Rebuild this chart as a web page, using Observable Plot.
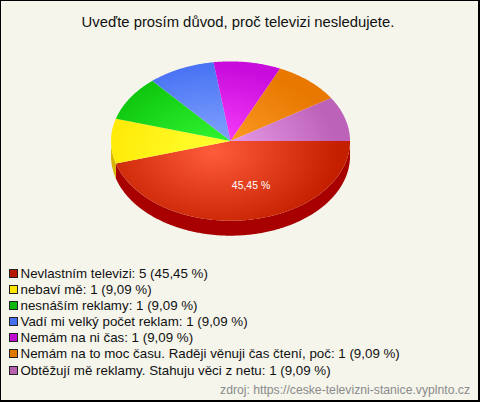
<!DOCTYPE html>
<html><head><meta charset="utf-8">
<script src="https://cdn.jsdelivr.net/npm/d3@7"></script>
<script src="https://cdn.jsdelivr.net/npm/@observablehq/plot@0.6"></script>
<style>
html,body{margin:0;padding:0;background:#f5f5ec}
#frame{position:relative;width:480px;height:402px;box-sizing:border-box;border:1px solid #000;border-right-width:2px;border-bottom-width:2px;background:#f5f5ec;font-family:"Liberation Sans",Arial,sans-serif;overflow:hidden;color:#111}
#title{position:absolute;left:0;top:12px;width:474px;text-align:center;font-size:14.85px;line-height:18px}
#chart{position:absolute;left:-1px;top:39px}
#chart svg{background:transparent;display:block}
#legend{position:absolute;left:8px;top:264px;font-size:13.33px}
.row{display:flex;align-items:center;height:16.17px;white-space:nowrap}
.sw{width:7px;height:7px;border:1px solid #222;margin-right:2.5px;flex:none}
#src{position:absolute;right:8px;top:382px;font-size:12.2px;color:#8a8a8a}
</style></head><body>
<div id="frame"><div id="title"></div><div id="chart"></div><div id="legend"></div><div id="src"></div></div>
<script>
const titleText = "Uveďte prosím důvod, proč televizi nesledujete.";
const categories = ["Nevlastním televizi","nebaví mě","nesnáším reklamy","Vadí mi velký počet reklam","Nemám na ni čas","Nemám na to moc času. Raději věnuji čas čtení, poč","Obtěžují mě reklamy. Stahuju věci z netu"];
const counts = [5,1,1,1,1,1,1];
const percents = ["45,45","9,09","9,09","9,09","9,09","9,09","9,09"];
const sliceLabel = "45,45 %";
const sourceText = "zdroj: https://ceske-televizni-stanice.vyplnto.cz";
const baseColors = ["#c42000","#ffe600","#0cc40c","#4a74f4","#c80cdc","#e87800","#bc62b8"];
const lightColors = ["#ff5c3c","#ffff30","#34f834","#88a8ff","#ff44ff","#ffa028","#f0a4f0"];
const legendColors = ["#b81800","#ffe600","#0cb80c","#4470f0","#c00cd0","#e07800","#b860b0"];
const sideColors = ["#a80000","#d8b400"];

const total = d3.sum(counts);
const depth = 0.1875;
let acc = 0;
const slices = counts.map((c,i)=>{const a0=acc/total*2*Math.PI; acc+=c; return {i,a0,a1:acc/total*2*Math.PI};});
const arcPts = (a0,a1)=>{const n=Math.max(2,Math.ceil((a1-a0)/0.01)); return d3.range(n+1).map(k=>{const a=a0+(a1-a0)*k/n; return {x:Math.cos(a),y:Math.sin(a)};});};
const topPoly = s=>[{x:0,y:0},...arcPts(s.a0,s.a1)];
const sidePoly = s=>{const a1=Math.min(s.a1,Math.PI); if(s.a0>=a1) return null; const arc=arcPts(s.a0,a1); return [...arc,...arc.slice().reverse().map(p=>({x:p.x,y:p.y+depth}))];};

const defs = ()=>{
  const svg=d3.create("svg:defs");
  baseColors.forEach((c,i)=>{
    const g=svg.append("radialGradient").attr("id","g"+i).attr("gradientUnits","userSpaceOnUse")
      .attr("cx",0).attr("cy",0).attr("r",1).attr("gradientTransform","translate(214,111) scale(125,84)");
    g.append("stop").attr("offset",0).attr("stop-color",lightColors[i]);
    g.append("stop").attr("offset",1).attr("stop-color",c);
  });
  return svg.node();
};
const sideMarks = slices.filter(s=>sidePoly(s)&&sideColors[s.i]).map(s=>Plot.line(sidePoly(s),{x:"x",y:"y",fill:sideColors[s.i],stroke:null,curve:"linear"}));
const topMarks = slices.map(s=>Plot.line(topPoly(s),{x:"x",y:"y",fill:`url(#g${s.i})`,stroke:null,curve:"linear"}));
const mid=(slices[0].a0+slices[0].a1)/2;
const plot = Plot.plot({
  width:480,height:210,margin:0,
  x:{domain:[-1,1],range:[111,351],axis:null},
  y:{domain:[-1,1],range:[21,181],axis:null,reverse:false},
  marks:[defs,...sideMarks,...topMarks,
    Plot.text([{x:0.56*Math.cos(mid),y:0.56*Math.sin(mid),t:sliceLabel}],{x:"x",y:"y",text:"t",fill:"#fff",fontSize:10.5,dx:11,fontFamily:"Liberation Sans"})]
});
document.getElementById("chart").append(plot);
document.getElementById("title").textContent=titleText;
document.getElementById("src").textContent=sourceText;
const lg=document.getElementById("legend");
categories.forEach((c,i)=>{const r=document.createElement("div");r.className="row";
  const s=document.createElement("span");s.className="sw";s.style.background=legendColors[i];
  const t=document.createElement("span");t.textContent=`${c}: ${counts[i]} (${percents[i]} %)`;
  r.append(s,t);lg.append(r);});
</script></body></html>
